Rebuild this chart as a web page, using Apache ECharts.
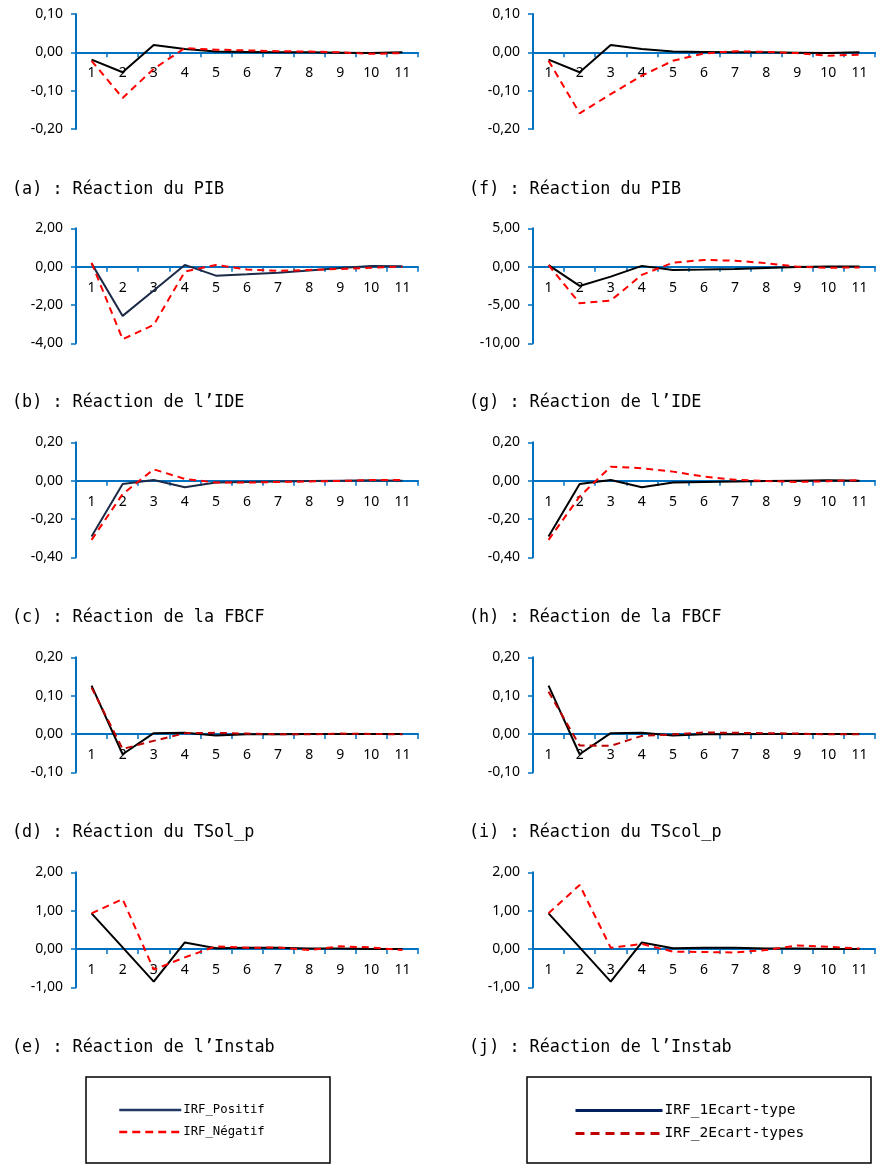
<!DOCTYPE html>
<html><head><meta charset="utf-8">
<script src="https://cdn.jsdelivr.net/npm/echarts@6/dist/echarts.min.js"></script>
<style>html,body{margin:0;padding:0;background:#fff}#c{width:878px;height:1169px}</style>
</head><body><div id="c"></div>
<script>
const categories = ['1','2','3','4','5','6','7','8','9','10','11'];
// Left column: IRF_Positif / IRF_Négatif
const pibPos  = [-0.019,-0.052,0.019,0.009,0.002,0.001,0,0,-0.001,-0.002,0];
const pibNeg  = [-0.022,-0.119,-0.043,0.011,0.007,0.005,0.003,0.002,0,-0.004,-0.002];
const idePos  = [0.17,-2.57,-1.25,0.09,-0.47,-0.40,-0.32,-0.20,-0.07,0.03,0.02];
const ideNeg  = [0.2,-3.79,-3.04,-0.26,0.09,-0.15,-0.22,-0.17,-0.12,-0.06,0];
const fbcfPos = [-0.292,-0.017,0.003,-0.035,-0.010,-0.007,-0.004,-0.002,0,0.002,0];
const fbcfNeg = [-0.309,-0.070,0.059,0.009,-0.010,-0.010,-0.007,-0.004,-0.002,0.003,0.003];
const tsolPos = [0.126,-0.053,0.002,0.003,-0.004,-0.001,-0.001,0,0,0,0];
const tsolNeg = [0.121,-0.039,-0.018,0.002,0.003,0.001,-0.001,-0.001,0.001,0,-0.001];
const instPos = [0.93,0.04,-0.85,0.17,0.02,0.03,0.03,0.01,0.01,0,0];
const instNeg = [0.93,1.30,-0.54,-0.22,0.07,0.03,0.04,-0.03,0.07,0.04,-0.03];
// Right column: IRF_1Ecart-type / IRF_2Ecart-types
const pib1  = [-0.019,-0.052,0.019,0.009,0.002,0.001,0,0,-0.001,-0.002,0];
const pib2  = [-0.022,-0.159,-0.109,-0.061,-0.022,-0.003,0.003,0.001,-0.002,-0.009,-0.006];
const ide1  = [0.2,-2.52,-1.30,0.10,-0.43,-0.38,-0.30,-0.18,-0.06,0.02,0.02];
const ide2  = [0.2,-4.78,-4.43,-1.08,0.52,0.87,0.78,0.45,0,-0.15,-0.10];
const fbcf1 = [-0.292,-0.017,0.003,-0.035,-0.010,-0.007,-0.004,-0.002,0,0.002,0];
const fbcf2 = [-0.309,-0.083,0.073,0.065,0.047,0.021,0.005,-0.002,-0.007,-0.003,0.003];
const tscol1 = [0.126,-0.053,0.002,0.003,-0.004,-0.001,-0.001,0,0,0,0];
const tscol2 = [0.110,-0.030,-0.031,-0.005,-0.001,0.004,0.003,0.002,0.001,-0.001,-0.001];
const inst1 = [0.93,0.04,-0.85,0.17,0.02,0.03,0.03,0.01,0.01,0,0];
const inst2 = [0.93,1.67,0.03,0.13,-0.07,-0.08,-0.09,-0.03,0.09,0.06,0.01];

const captionsLeft  = ['(a) : Réaction du PIB','(b) : Réaction de l’IDE','(c) : Réaction de la FBCF','(d) : Réaction du TSol_p','(e) : Réaction de l’Instab'];
const captionsRight = ['(f) : Réaction du PIB','(g) : Réaction de l’IDE','(h) : Réaction de la FBCF','(i) : Réaction du TScol_p','(j) : Réaction de l’Instab'];
const yRangesLeft  = [[-0.2,0.1,0.1],[-4,2,2],[-0.4,0.2,0.2],[-0.1,0.2,0.1],[-1,2,1]];
const yRangesRight = [[-0.2,0.1,0.1],[-10,5,5],[-0.4,0.2,0.2],[-0.1,0.2,0.1],[-1,2,1]];

const leftSolid  = [pibPos, idePos, fbcfPos, tsolPos, instPos];
const leftDash   = [pibNeg, ideNeg, fbcfNeg, tsolNeg, instNeg];
const rightSolid = [pib1, ide1, fbcf1, tscol1, inst1];
const rightDash  = [pib2, ide2, fbcf2, tscol2, inst2];

const leftSolidColors  = ['#000000','#1c2a48','#1c2a48','#000000','#000000'];
const leftDashColors   = ['#ff0000','#ff0000','#ff0000','#c00000','#ff0000'];
const rightSolidColors = ['#000000','#000000','#000000','#000000','#000000'];
const rightDashColors  = ['#ff0000','#ff0000','#ff0000','#c00000','#ff0000'];

const tops = [14, 228.3, 442.3, 657.3, 872.3];
const capY = [189.5, 403, 618, 833, 1047.5];
const colLeft = [76, 533];
const W = 342, H = 115;
const BLUE = '#0070c0';
const fmt = v => v.toFixed(2).replace('.', ',').replace(/^-0,00$/, '0,00');

const grid = [], xAxis = [], yAxis = [], series = [], graphic = [];
for (let c = 0; c < 2; c++) {
  for (let r = 0; r < 5; r++) {
    const idx = grid.length;
    const rg = c === 0 ? yRangesLeft[r] : yRangesRight[r];
    grid.push({left: colLeft[c], top: tops[r], width: W, height: H, containLabel: false});
    xAxis.push({
      type: 'category', gridIndex: idx, data: categories, boundaryGap: true,
      position: 'bottom',
      offset: -H * (0 - rg[0]) / (rg[1] - rg[0]),
      axisLine: {onZero: false, lineStyle: {color: BLUE, width: 2}},
      axisTick: {show: true, length: 5, inside: false, lineStyle: {color: BLUE, width: 1.5}, alignWithLabel: false},
      axisLabel: {margin: 14, color: '#000', fontFamily: 'Noto Sans', fontSize: 14, interval: 0},
      splitLine: {show: false}
    });
    yAxis.push({
      type: 'value', gridIndex: idx, min: rg[0], max: rg[1], interval: rg[2],
      axisLine: {show: true, lineStyle: {color: BLUE, width: 2}},
      axisTick: {show: true, length: 5, lineStyle: {color: BLUE, width: 1.5}},
      axisLabel: {margin: 13, color: '#000', fontFamily: 'Noto Sans', fontSize: 14, formatter: fmt},
      splitLine: {show: false}
    });
    const solid = c === 0 ? leftSolid[r] : rightSolid[r];
    const dash = c === 0 ? leftDash[r] : rightDash[r];
    const nS = c === 0 ? 'IRF_Positif' : 'IRF_1Ecart-type';
    const nD = c === 0 ? 'IRF_Négatif' : 'IRF_2Ecart-types';
    const cS = c === 0 ? leftSolidColors[r] : rightSolidColors[r];
    const cD = c === 0 ? leftDashColors[r] : rightDashColors[r];
    series.push({
      name: nS, type: 'line', xAxisIndex: idx, yAxisIndex: idx, data: solid,
      symbol: 'none', silent: true, color: cS,
      lineStyle: {color: cS, width: 2, type: 'solid'}, z: 3
    });
    series.push({
      name: nD, type: 'line', xAxisIndex: idx, yAxisIndex: idx, data: dash,
      symbol: 'none', silent: true, color: cD,
      lineStyle: {color: cD, width: 2, type: [7, 5]}, z: 4
    });
    graphic.push({
      type: 'text', x: c === 0 ? 12 : 469, y: capY[r],
      style: {text: c === 0 ? captionsLeft[r] : captionsRight[r], fill: '#000',
        font: '16.8px "DejaVu Sans Mono"', verticalAlign: 'middle', textVerticalAlign: 'middle'}
    });
  }
}
graphic.push({type: 'rect', shape: {x: 86, y: 1077, width: 244, height: 86}, style: {fill: 'none', stroke: '#000', lineWidth: 1.5}});
graphic.push({type: 'rect', shape: {x: 527, y: 1077, width: 344, height: 86}, style: {fill: 'none', stroke: '#000', lineWidth: 1.5}});

const hiddenSymbol = {opacity: 0, color: 'rgba(0,0,0,0)', borderWidth: 0};
const legend = [
  {
    orient: 'vertical', left: 118, top: 1104, padding: 0, itemGap: 10,
    itemWidth: 62, itemHeight: 14, selectedMode: false,
    textStyle: {fontFamily: 'DejaVu Sans Mono', fontSize: 12.3, color: '#000', padding: [2,0,0,-3]},
    data: [
      {name: 'IRF_Positif', itemStyle: hiddenSymbol, lineStyle: {color: '#1f3864', width: 2.5, type: 'solid'}},
      {name: 'IRF_Négatif', itemStyle: hiddenSymbol, lineStyle: {color: '#ff0000', width: 2.5, type: [8, 5]}}
    ]
  },
  {
    orient: 'vertical', left: 574, top: 1103, padding: 0, itemGap: 8,
    itemWidth: 87, itemHeight: 14, selectedMode: false,
    textStyle: {fontFamily: 'DejaVu Sans Mono', fontSize: 14.5, color: '#000', padding: [0,0,0,-3]},
    data: [
      {name: 'IRF_1Ecart-type', itemStyle: hiddenSymbol, lineStyle: {color: '#002060', width: 3, type: 'solid'}},
      {name: 'IRF_2Ecart-types', itemStyle: hiddenSymbol, lineStyle: {color: '#c00000', width: 3, type: [9, 6]}}
    ]
  }
];

const chart = echarts.init(document.getElementById('c'), null, {renderer: 'canvas'});
chart.setOption({animation: false, backgroundColor: '#fff', grid, xAxis, yAxis, series, graphic, legend});
</script></body></html>
